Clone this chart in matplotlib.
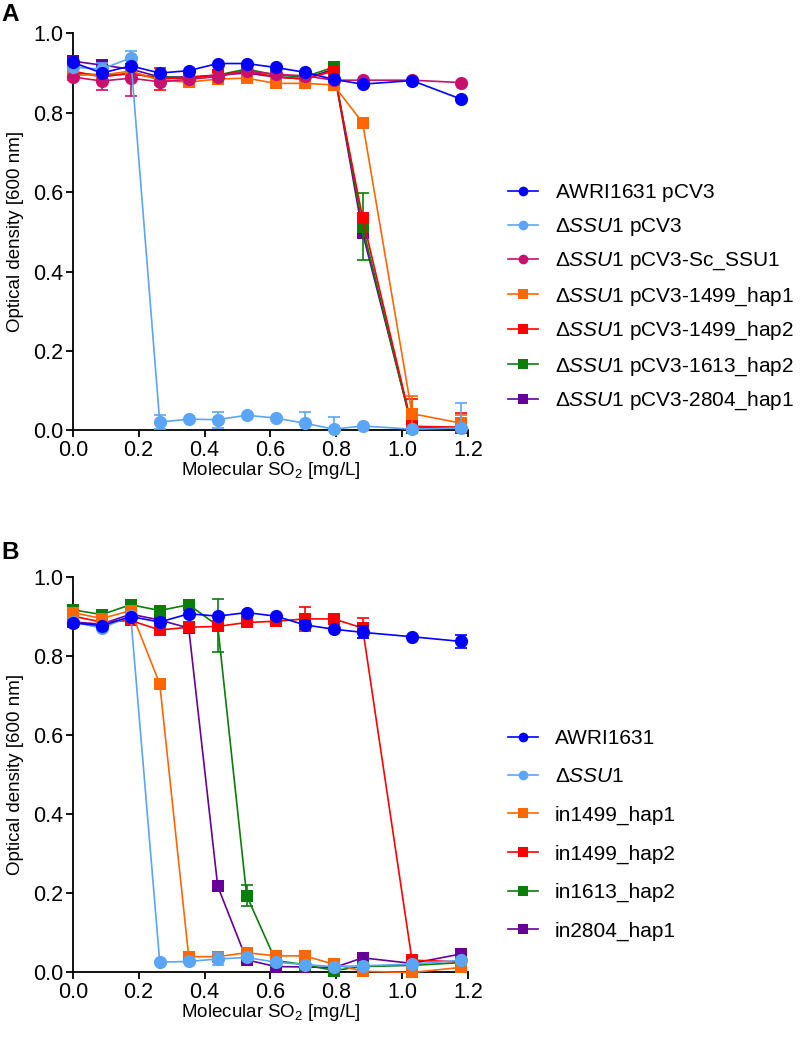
import matplotlib
matplotlib.use("Agg")
import matplotlib.pyplot as plt
from matplotlib.lines import Line2D

plt.rcParams["font.family"] = ["Liberation Sans", "DejaVu Sans"]
plt.rcParams["mathtext.fontset"] = "custom"
plt.rcParams["mathtext.rm"] = "Liberation Sans"
plt.rcParams["mathtext.it"] = "Liberation Sans:italic"

# molecular SO2 concentrations (mg/L)
so2 = [0, 0.088, 0.176, 0.264, 0.352, 0.44, 0.528, 0.616, 0.704, 0.792, 0.88, 1.03, 1.18]

# panel A: complementation with pCV3 plasmids
labels_a = [r"$\mathrm{AWRI1631\ pCV3}$", r"$\Delta\mathit{SSU1}\ \mathrm{pCV3}$",
            r"$\Delta\mathit{SSU1}\ \mathrm{pCV3\text{-}Sc\_SSU1}$",
            r"$\Delta\mathit{SSU1}\ \mathrm{pCV3\text{-}1499\_hap1}$",
            r"$\Delta\mathit{SSU1}\ \mathrm{pCV3\text{-}1499\_hap2}$",
            r"$\Delta\mathit{SSU1}\ \mathrm{pCV3\text{-}1613\_hap2}$",
            r"$\Delta\mathit{SSU1}\ \mathrm{pCV3\text{-}2804\_hap1}$"]
awri_a = [0.927, 0.900, 0.918, 0.900, 0.906, 0.924, 0.924, 0.914, 0.902, 0.884, 0.872, 0.881, 0.834]
dssu1_a = [0.915, 0.910, 0.938, 0.021, 0.028, 0.027, 0.038, 0.031, 0.018, 0.003, 0.011, 0.003, 0.006]
sc_a = [0.890, 0.880, 0.887, 0.878, 0.884, 0.891, 0.905, 0.897, 0.893, 0.882, 0.882, 0.882, 0.876]
h1499_1_a = [0.895, 0.895, 0.905, 0.882, 0.877, 0.885, 0.887, 0.874, 0.874, 0.870, 0.775, 0.042, 0.018]
h1499_2_a = [0.905, 0.890, 0.900, 0.885, 0.888, 0.895, 0.905, 0.890, 0.885, 0.905, 0.535, 0.010, 0.008]
h1613_2_a = [0.900, 0.895, 0.897, 0.890, 0.888, 0.895, 0.910, 0.895, 0.890, 0.915, 0.513, 0.005, 0.008]
h2804_1_a = [0.930, 0.920, 0.910, 0.890, 0.890, 0.895, 0.900, 0.890, 0.885, 0.910, 0.497, 0.010, 0.005]
err_awri_a = [0, 0, 0, 0, 0, 0, 0, 0, 0, 0, 0, 0, 0]
err_dssu1_a = [0, 0.015, 0.018, 0.018, 0, 0.020, 0, 0, 0.027, 0.030, 0, 0, 0.064]
err_sc_a = [0, 0.022, 0.045, 0, 0, 0, 0, 0, 0, 0, 0, 0, 0]
err_1499_1_a = [0, 0, 0, 0, 0, 0, 0, 0, 0, 0, 0, 0.045, 0.020]
err_1499_2_a = [0, 0, 0, 0.028, 0, 0, 0, 0, 0, 0, 0, 0.070, 0.036]
err_1613_2_a = [0, 0, 0, 0, 0, 0, 0, 0, 0, 0, 0.085, 0, 0]
err_2804_1_a = [0, 0.012, 0, 0, 0, 0, 0, 0, 0, 0, 0, 0, 0]

# panel B: integrated alleles
labels_b = ["AWRI1631", r"$\Delta\mathit{SSU1}$", "in1499_hap1", "in1499_hap2", "in1613_hap2", "in2804_hap1"]
awri_b = [0.883, 0.876, 0.899, 0.885, 0.906, 0.900, 0.909, 0.900, 0.878, 0.867, 0.859, 0.848, 0.836]
dssu1_b = [0.885, 0.870, 0.900, 0.026, 0.028, 0.034, 0.038, 0.026, 0.020, 0.015, 0.017, 0.021, 0.031]
in1499_1_b = [0.909, 0.894, 0.914, 0.729, 0.040, 0.040, 0.050, 0.042, 0.042, 0.021, 0.003, 0.000, 0.013]
in1499_2_b = [0.900, 0.885, 0.889, 0.865, 0.872, 0.874, 0.884, 0.887, 0.893, 0.893, 0.870, 0.031, 0.027]
in1613_2_b = [0.916, 0.904, 0.929, 0.914, 0.929, 0.876, 0.194, 0.030, 0.020, 0.005, 0.015, 0.018, 0.025]
in2804_1_b = [0.885, 0.880, 0.905, 0.890, 0.870, 0.218, 0.032, 0.015, 0.014, 0.012, 0.037, 0.023, 0.047]
err_awri_b = [0, 0, 0, 0, 0, 0, 0, 0, 0.010, 0, 0.015, 0, 0.017]
err_dssu1_b = [0, 0, 0, 0, 0, 0.015, 0, 0, 0, 0, 0, 0, 0]
err_1499_1_b = [0, 0, 0, 0, 0, 0, 0, 0, 0, 0, 0, 0, 0]
err_1499_2_b = [0, 0, 0, 0, 0, 0, 0, 0, 0.030, 0, 0.025, 0, 0]
err_1613_2_b = [0, 0, 0, 0, 0, 0.067, 0.027, 0, 0, 0, 0, 0, 0]
err_2804_1_b = [0, 0, 0, 0, 0, 0, 0, 0, 0, 0, 0, 0, 0]

colors_a = ["#0000ff", "#5aa5f5", "#c8106e", "#ff6600", "#ff0000", "#0a7d0a", "#660099"]
markers_a = ["o", "o", "o", "s", "s", "s", "s"]
colors_b = ["#0000ff", "#5aa5f5", "#ff6600", "#ff0000", "#0a7d0a", "#660099"]
markers_b = ["o", "o", "s", "s", "s", "s"]

series_a = [awri_a, dssu1_a, sc_a, h1499_1_a, h1499_2_a, h1613_2_a, h2804_1_a]
errs_a = [err_awri_a, err_dssu1_a, err_sc_a, err_1499_1_a, err_1499_2_a, err_1613_2_a, err_2804_1_a]
series_b = [awri_b, dssu1_b, in1499_1_b, in1499_2_b, in1613_2_b, in2804_1_b]
errs_b = [err_awri_b, err_dssu1_b, err_1499_1_b, err_1499_2_b, err_1613_2_b, err_2804_1_b]

fig = plt.figure(figsize=(8, 10.42), dpi=100)
ax_a = fig.add_axes([0.091, 0.587, 0.494, 0.381])
ax_b = fig.add_axes([0.091, 0.0667, 0.494, 0.380])


def draw_panel(ax, series, errs, labels, colors, markers, legend_y, spacing):
    n = len(series)
    handles = []
    for i in range(n):
        z = 10 + (n - i) * 3
        ms = 9.5 if markers[i] == "o" else 8.5
        ax.errorbar(so2, series[i], yerr=errs[i], fmt="none", ecolor=colors[i],
                    elinewidth=1.2, capsize=4.5, capthick=1.2, zorder=z)
        ax.plot(so2, series[i], color=colors[i], marker=markers[i], markersize=ms,
                markeredgewidth=0, lw=1.2, clip_on=False, zorder=z + 1)
        handles.append(Line2D([], [], color=colors[i], marker=markers[i], lw=1.2,
                              markersize=7 if markers[i] == "o" else 6.5, markeredgewidth=0))
    ax.set_xlim(0, 1.2)
    ax.set_ylim(0, 1.0)
    ax.set_xticks([0, 0.2, 0.4, 0.6, 0.8, 1.0, 1.2])
    ax.set_xticklabels(["0.0", "0.2", "0.4", "0.6", "0.8", "1.0", "1.2"])
    ax.set_yticks([0, 0.2, 0.4, 0.6, 0.8, 1.0])
    ax.set_yticklabels(["0.0", "0.2", "0.4", "0.6", "0.8", "1.0"])
    ax.spines["top"].set_visible(False)
    ax.spines["right"].set_visible(False)
    ax.spines["left"].set_linewidth(1.3)
    ax.spines["bottom"].set_linewidth(1.3)
    ax.tick_params(direction="out", length=5, width=1.3, labelsize=15.5, pad=2)
    ax.set_xlabel(r"Molecular SO$_2$ [mg/L]", fontsize=13.5)
    ax.set_ylabel("Optical density [600 nm]", fontsize=13.5, labelpad=6)
    ax.xaxis.set_label_coords(0.5, -0.075)
    ax.legend(handles=handles, labels=labels, loc="upper left", bbox_to_anchor=(0.635, legend_y),
              bbox_transform=fig.transFigure, frameon=False, fontsize=15,
              handlelength=1.45, handletextpad=0.8, labelspacing=spacing,
              borderaxespad=0, borderpad=0)


draw_panel(ax_a, series_a, errs_a, labels_a, colors_a, markers_a, 1 - 182 / 1042, 0.6)
draw_panel(ax_b, series_b, errs_b, labels_b, colors_b, markers_b, 1 - 729 / 1042, 0.93)

fig.text(0.002, 1 - 21 / 1042, "A", fontsize=17.5, fontweight="bold")
fig.text(0.002, 1 - 559 / 1042, "B", fontsize=17.5, fontweight="bold")

fig.savefig("out.png", dpi=100)
